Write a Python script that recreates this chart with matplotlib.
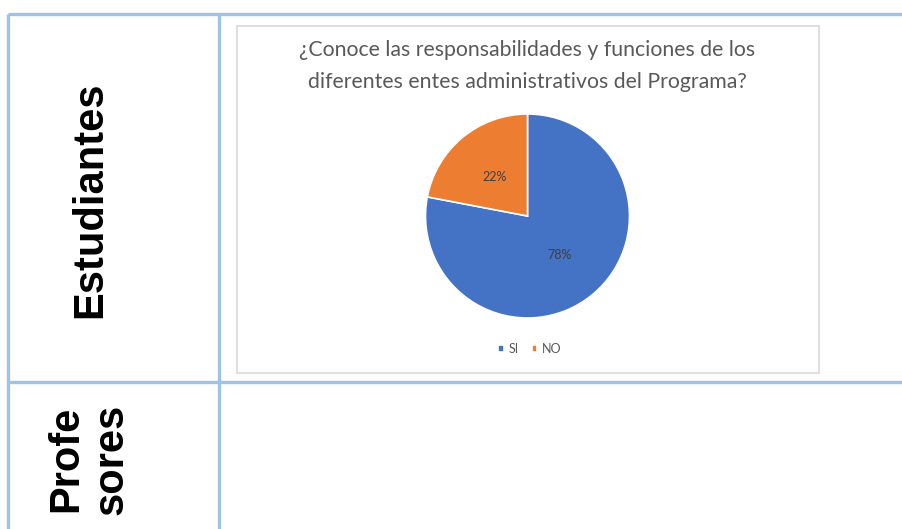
import matplotlib.pyplot as plt
from matplotlib.patches import Rectangle

# survey answers
labels = ["SI", "NO"]
shares = [78, 22]
colors = ["#4472C4", "#ED7D31"]
title_lines = ["¿Conoce las responsabilidades y funciones de los",
               "diferentes entes administrativos del Programa?"]
row_names = ["Estudiantes", "Profe\nsores"]

W, H = 902, 529
fig = plt.figure(figsize=(W / 100, H / 100), dpi=100)

# full-figure axes in pixel units for the table grid
base = fig.add_axes([0, 0, 1, 1])
base.set_xlim(0, W)
base.set_ylim(H, 0)
base.axis("off")

grid = "#9DC3E6"
lw = 2.4
base.plot([8, W], [14, 14], color=grid, lw=lw, solid_capstyle="butt")
base.plot([8, W], [382, 382], color=grid, lw=lw, solid_capstyle="butt")
base.plot([8, 8], [14, H], color=grid, lw=lw, solid_capstyle="butt")
base.plot([219, 219], [14, H], color=grid, lw=lw, solid_capstyle="butt")

# row headers
base.text(90, 200, row_names[0], rotation=90, ha="center", va="center",
          fontsize=30, fontweight="bold", family="Liberation Sans")
base.text(89, 459, row_names[1], rotation=90, ha="center", va="center",
          fontsize=30, fontweight="bold", family="Liberation Sans",
          linespacing=1.15, multialignment="center")

# embedded chart frame
base.add_patch(Rectangle((237, 26), 582, 347, fill=False, ec="#D9D9D9", lw=1.2))
for y, line in zip([50, 82], title_lines):
    base.text(527, y, line, ha="center", va="center", fontsize=15.3,
              color="#595959", family="Lato")

# pie
cx, cy, r = 527.5, 216, 102
pax = fig.add_axes([(cx - r) / W, 1 - (cy + r) / H, 2 * r / W, 2 * r / H])
wedges, _, autotexts = pax.pie(
    shares, colors=colors, startangle=90, counterclock=False,
    autopct="%d%%", pctdistance=0.5,
    wedgeprops=dict(edgecolor="white", linewidth=1.2),
    textprops=dict(fontsize=9, color="#404040", family="Lato"))
pax.set_xlim(-1, 1)
pax.set_ylim(-1, 1)
pax.set_aspect("auto")

fig.legend(wedges, labels, loc="center", bbox_to_anchor=(530 / W, 1 - 349 / H),
           ncol=2, frameon=False, handlelength=0.45, handleheight=0.45,
           handletextpad=0.4, columnspacing=1.0,
           prop=dict(family="Lato", size=9), labelcolor="#595959")

fig.savefig("out.png", dpi=100)
